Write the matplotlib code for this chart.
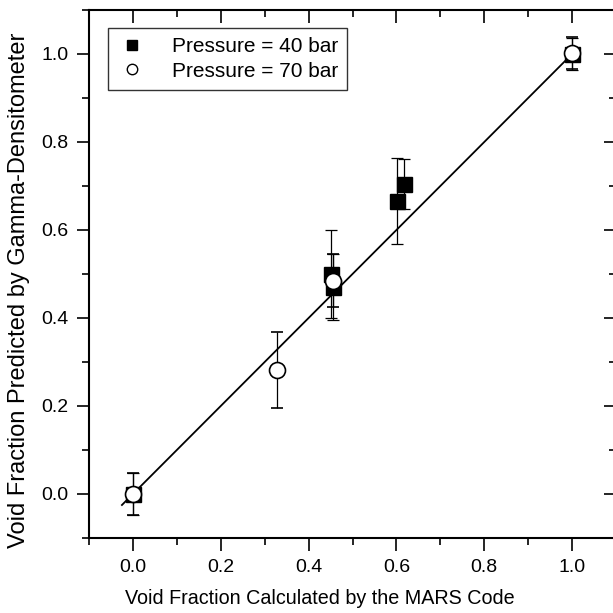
import numpy as np
import matplotlib
matplotlib.use('Agg')
import matplotlib.pyplot as plt
from matplotlib.ticker import MultipleLocator, FormatStrFormatter
from matplotlib.lines import Line2D

plt.rcParams['font.family'] = ['Liberation Sans', 'DejaVu Sans']

# Pressure = 40 bar (filled squares)
x40 = [0.0, 0.45, 0.455, 0.602, 0.618, 1.0]
y40 = [0.0, 0.50, 0.47, 0.666, 0.705, 1.0]
e40 = [0.047, 0.10, 0.075, 0.098, 0.057, 0.037]

# Pressure = 70 bar (open circles)
x70 = [0.0, 0.329, 0.455, 1.0]
y70 = [0.0, 0.282, 0.485, 1.002]
e70 = [0.047, 0.087, 0.06, 0.037]

# fit line
fit_x = [-0.025, 1.005]
fit_y = [-0.025, 1.005]

fig = plt.figure(figsize=(6.13, 6.13), dpi=100)
ax = fig.add_axes([89/613, 75/613, 527/613, 528/613])

ax.plot(fit_x, fit_y, color='black', linewidth=1.3, zorder=2)

ax.errorbar(x40, y40, yerr=e40, fmt='s', color='black', markersize=10.8,
            ecolor='black', elinewidth=0.9, capsize=4, capthick=0.9, zorder=3)
ax.errorbar(x70, y70, yerr=e70, fmt='o', color='black', markerfacecolor='white',
            markeredgecolor='black', markeredgewidth=1.2, markersize=11.5,
            ecolor='black', elinewidth=0.9, capsize=4, capthick=0.9, zorder=4)

ax.set_xlim(-0.1, 1.1)
ax.set_ylim(-0.1, 1.1)
ax.xaxis.set_major_locator(MultipleLocator(0.2))
ax.xaxis.set_minor_locator(MultipleLocator(0.1))
ax.yaxis.set_major_locator(MultipleLocator(0.2))
ax.yaxis.set_minor_locator(MultipleLocator(0.1))
ax.xaxis.set_major_formatter(FormatStrFormatter('%.1f'))
ax.yaxis.set_major_formatter(FormatStrFormatter('%.1f'))

ax.tick_params(axis='both', which='major', direction='out', length=9, width=1.2,
               labelsize=14, pad=6)
ax.tick_params(axis='both', which='minor', direction='out', length=5, width=1.2)
ax.tick_params(top=True, right=True, which='both')
# top/right ticks point inward
for t in ax.xaxis.get_major_ticks() + ax.xaxis.get_minor_ticks():
    t.tick2line.set_marker(3)
for t in ax.yaxis.get_major_ticks() + ax.yaxis.get_minor_ticks():
    t.tick2line.set_marker(0)

for s in ax.spines.values():
    s.set_linewidth(1.5)

ax.set_xlabel('Void Fraction Calculated by the MARS Code', fontsize=14.2)
ax.set_ylabel('Void Fraction Predicted by Gamma-Densitometer', fontsize=17)
ax.xaxis.set_label_coords(0.438, -0.096)
ax.yaxis.set_label_coords(-0.112, 0.47)

handles = [
    Line2D([], [], linestyle='none', marker='s', color='black', markersize=7),
    Line2D([], [], linestyle='none', marker='o', markerfacecolor='white',
           markeredgecolor='black', markeredgewidth=1.0, markersize=7.5),
]
labels = ['Pressure = 40 bar', 'Pressure = 70 bar']
leg = ax.legend(handles, labels, loc='upper left', bbox_to_anchor=(0.036, 0.966),
                borderaxespad=0, fontsize=15, frameon=True, fancybox=False,
                handlelength=1.4, handletextpad=1.2, borderpad=0.45, labelspacing=0.25)
leg.get_frame().set_edgecolor('black')
leg.get_frame().set_linewidth(1.0)

fig.savefig('out.png', dpi=100)
